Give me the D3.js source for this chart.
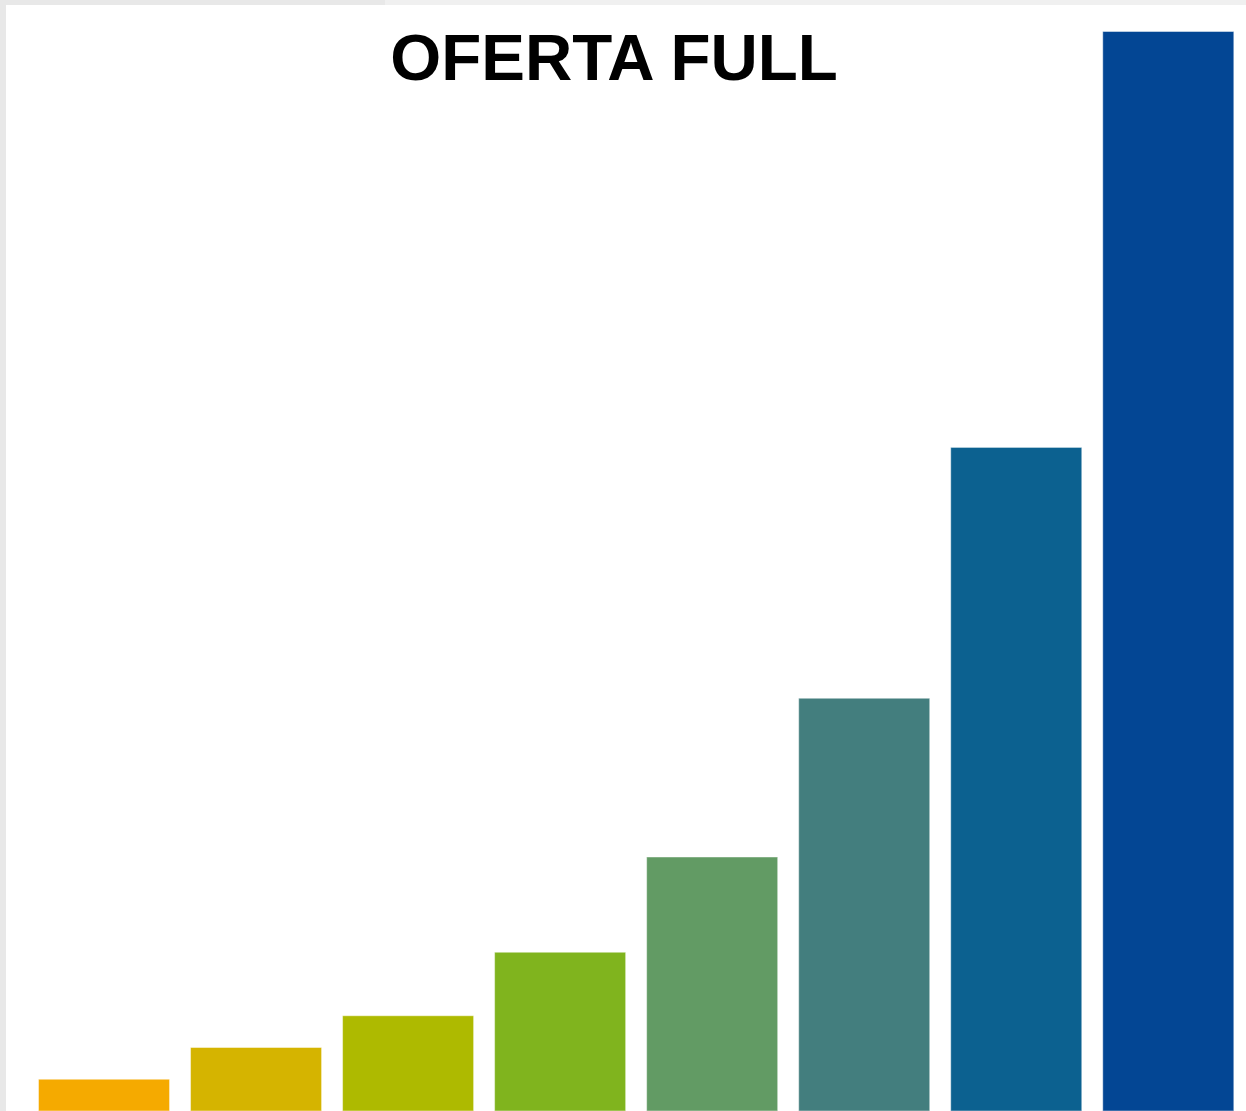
<!DOCTYPE html>
<html>
<head>
<meta charset="utf-8">
<script src="https://cdn.jsdelivr.net/npm/d3@7"></script>
<style>
  html, body { margin: 0; padding: 0; background: #e8e8e8; overflow: hidden; }
  svg { display: block; }
</style>
</head>
<body>
<svg id="chart" width="1246" height="1111"></svg>
<script>
const categories = ['1', '2', '3', '4', '5', '6', '7', '8'];
const values = [1, 2, 3, 5, 8, 13, 20.9, 34];
const colors = ['#F5AA00', '#D5B400', '#AEBA00', '#80B41E', '#629B64', '#437E7E', '#0C6190', '#034694'];
const title = 'OFERTA FULL';

const width = 1246;
const height = 1111;
const svg = d3.select('#chart');

// grey frame: top strip gets lighter to the right
svg.append('rect').attr('x', 0).attr('y', 0).attr('width', width).attr('height', height).attr('fill', '#e8e8e8');
svg.append('rect').attr('x', 385).attr('y', 0).attr('width', width - 385).attr('height', 5).attr('fill', '#f0f0f0');
svg.append('rect').attr('x', 6).attr('y', 5).attr('width', width - 6).attr('height', height - 5).attr('fill', '#fff');

const x = d3.scaleBand()
    .domain(categories)
    .range([38.5, 1233.8])
    .paddingInner(21 / 152)
    .paddingOuter(0);

const y = d3.scaleLinear()
    .domain([0, d3.max(values)])
    .range([1111, 31.5]);

svg.append('g')
    .selectAll('rect')
    .data(values)
    .join('rect')
    .attr('x', (d, i) => x(categories[i]))
    .attr('y', d => y(d))
    .attr('width', x.bandwidth())
    .attr('height', d => y(0) - y(d))
    .attr('fill', (d, i) => colors[i])
    .attr('stroke', 'rgba(255,255,255,0.45)')
    .attr('stroke-width', 1);

svg.append('text')
    .attr('x', 614)
    .attr('y', 80)
    .attr('text-anchor', 'middle')
    .attr('font-family', '"Liberation Sans", Arial, sans-serif')
    .attr('font-weight', 'bold')
    .attr('font-size', 65.5)
    .attr('fill', '#000')
    .text(title);
</script>
</body>
</html>
